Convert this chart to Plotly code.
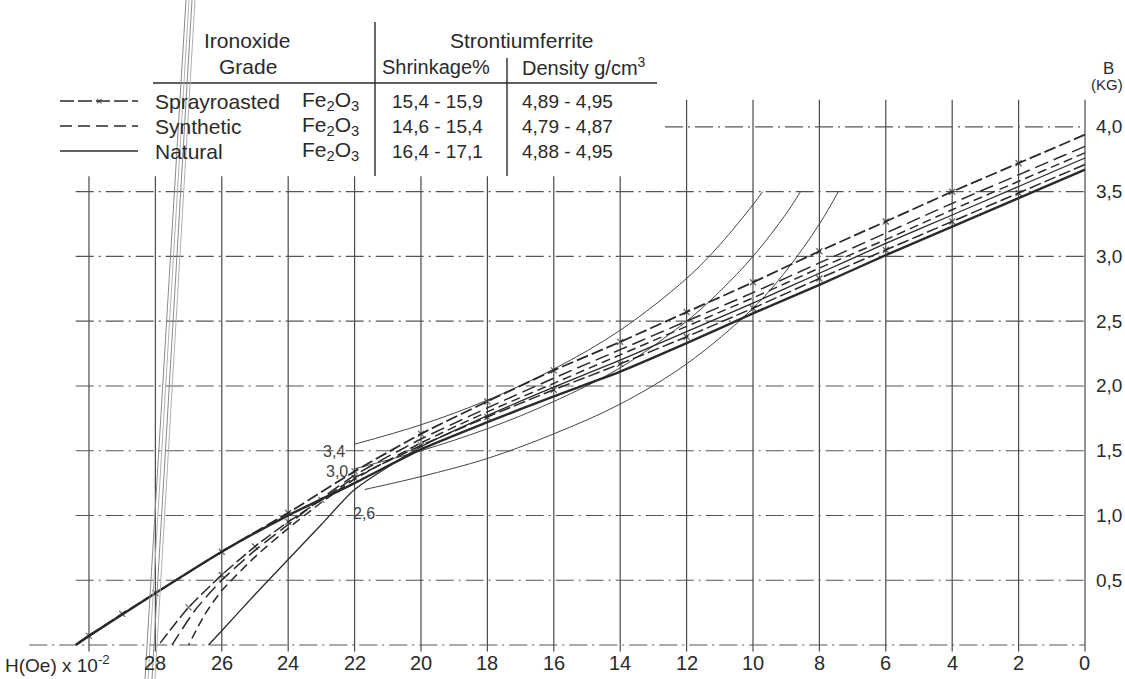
import plotly.graph_objects as go

# ---------------- data ----------------
h_ticks = [28, 26, 24, 22, 20, 18, 16, 14, 12, 10, 8, 6, 4, 2, 0]
h_tick_labels = ["28", "26", "24", "22", "20", "18", "16", "14", "12", "10", "8", "6", "4", "2", "0"]
b_ticks = [0.5, 1.0, 1.5, 2.0, 2.5, 3.0, 3.5, 4.0]
b_tick_labels = ["0,5", "1,0", "1,5", "2,0", "2,5", "3,0", "3,5", "4,0"]

grid_h_low = [30, 28, 26, 24, 22, 20, 18, 16, 14]   # verticals ending under the table
grid_h_high = [12, 10, 8, 6, 4, 2, 0]               # verticals reaching 4.2 kG
grid_b_main = [0.5, 1.0, 1.5, 2.0, 2.5, 3.0, 3.5]
grid_b_top = [4.0]

# demagnetisation curves, H in Oe x 100, B in kG
spray_a_h = [0, 2, 4, 6, 8, 10, 12, 14, 16, 18, 20, 22, 24, 26, 28, 29, 30, 30.4]
spray_a_b = [3.94, 3.72, 3.50, 3.27, 3.04, 2.80, 2.57, 2.34, 2.12, 1.88, 1.63, 1.34, 1.02, 0.72, 0.40, 0.24, 0.07, 0.0]

spray_b_h = [0, 2, 4, 6, 8, 10, 12, 14, 16, 18, 20, 22, 23, 24, 25, 26, 27, 27.9]
spray_b_b = [3.71, 3.49, 3.27, 3.05, 2.83, 2.60, 2.38, 2.17, 1.97, 1.76, 1.54, 1.29, 1.12, 0.95, 0.76, 0.54, 0.29, 0.0]

synth_a_h = [0, 2, 4, 6, 8, 10, 12, 14, 16, 18, 20, 22, 23, 24, 25, 26, 26.8, 27.5]
synth_a_b = [3.85, 3.63, 3.41, 3.18, 2.95, 2.72, 2.50, 2.28, 2.06, 1.83, 1.59, 1.31, 1.13, 0.93, 0.73, 0.50, 0.27, 0.0]

synth_b_h = [0, 2, 4, 6, 8, 10, 12, 14, 16, 18, 20, 22, 23, 24, 25, 26, 26.5, 27.0]
synth_b_b = [3.80, 3.58, 3.36, 3.13, 2.91, 2.68, 2.46, 2.24, 2.02, 1.80, 1.56, 1.28, 1.10, 0.90, 0.68, 0.42, 0.24, 0.0]

natural_a_h = [0, 2, 4, 6, 8, 10, 12, 14, 16, 18, 20, 22, 24, 26, 28, 30, 30.4]
natural_a_b = [3.67, 3.45, 3.23, 3.01, 2.78, 2.56, 2.33, 2.11, 1.92, 1.72, 1.51, 1.25, 1.00, 0.72, 0.40, 0.07, 0.0]

natural_b_h = [0, 2, 4, 6, 8, 10, 12, 14, 16, 18, 20, 22, 23, 24, 25, 26, 26.4]
natural_b_b = [3.76, 3.54, 3.32, 3.10, 2.87, 2.64, 2.42, 2.20, 1.99, 1.77, 1.53, 1.20, 0.93, 0.66, 0.39, 0.11, 0.0]

# lines of constant energy product (BH)max, MGOe
iso_labels = ["3,4", "3,0", "2,6"]
iso34_h = [22, 20, 18, 16, 14, 12, 11, 10, 9.71]
iso34_b = [1.55, 1.70, 1.89, 2.13, 2.43, 2.83, 3.09, 3.40, 3.50]
iso30_h = [22, 20, 18, 16, 14, 12, 11, 10, 9, 8.57]
iso30_b = [1.36, 1.50, 1.67, 1.88, 2.14, 2.50, 2.73, 3.00, 3.33, 3.50]
iso26_h = [21.7, 20, 18, 16, 14, 12, 10, 9, 8, 7.43]
iso26_b = [1.20, 1.30, 1.44, 1.63, 1.86, 2.17, 2.60, 2.89, 3.25, 3.50]

grades = ["Sprayroasted", "Synthetic", "Natural"]
shrinkage = ["15,4 - 15,9", "14,6 - 15,4", "16,4 - 17,1"]
density = ["4,89 - 4,95", "4,79 - 4,87", "4,88 - 4,95"]

# ---------------- figure ----------------
W, HGT = 1125, 679
XR = [32.68, -1.205]
YR = [-0.263, 4.98]
INK = "#2a2a2a"
GRID = "#4a4a4a"
FONT = "Liberation Sans"

fig = go.Figure()


def seg_trace(xs, ys, color, width, dash="solid"):
    fig.add_trace(go.Scatter(x=xs, y=ys, mode="lines", hoverinfo="skip",
                             line=dict(color=color, width=width, dash=dash),
                             showlegend=False))


# vertical grid
vx, vy = [], []
for h in grid_h_low:
    vx += [h, h, None]
    vy += [-0.05, 3.62, None]
for h in grid_h_high:
    vx += [h, h, None]
    vy += [-0.05, 4.21, None]
seg_trace(vx, vy, GRID, 1.2)

# horizontal grid (dash-dot)
hx, hy = [31.8, 0, None], [0, 0, None]
for b in grid_b_main:
    hx += [30.4, 0, None]
    hy += [b, b, None]
for b in grid_b_top:
    hx += [12.65, 0, None]
    hy += [b, b, None]
seg_trace(hx, hy, "#555555", 1.1, "18px,5px,2px,5px")

# iso energy curves
for hh, bb in [(iso34_h, iso34_b), (iso30_h, iso30_b), (iso26_h, iso26_b)]:
    fig.add_trace(go.Scatter(x=hh, y=bb, mode="lines", line=dict(color="#444444", width=1.0, shape="spline"),
                             hoverinfo="skip", showlegend=False))


# demagnetisation curves
def curve(hh, bb, dash, width, xmark=False):
    sizes = [6] * len(hh)
    sizes[0] = 0
    sizes[-1] = 0
    fig.add_trace(go.Scatter(
        x=hh, y=bb, mode="lines+markers" if xmark else "lines",
        line=dict(color=INK, width=width, dash=dash, shape="spline", smoothing=0.6),
        marker=dict(symbol="x-thin", size=sizes, line=dict(color=INK, width=1.3)) if xmark else None,
        hoverinfo="skip", showlegend=False))


curve(natural_a_h, natural_a_b, "solid", 2.4)
curve(natural_b_h, natural_b_b, "solid", 1.3)
curve(synth_a_h, synth_a_b, "14px,6px", 1.5)
curve(synth_b_h, synth_b_b, "9px,5px", 1.5)
curve(spray_b_h, spray_b_b, "12px,4px", 1.5, xmark=True)
curve(spray_a_h, spray_a_b, "12px,4px", 1.8, xmark=True)

fig.update_xaxes(range=XR, visible=False, showgrid=False, zeroline=False)
fig.update_yaxes(range=YR, visible=False, showgrid=False, zeroline=False)

ann = []


def px(xp):
    return xp / W


def py(yp):
    return 1 - yp / HGT


def text(t, xp, yp, size=20, xanchor="left", color=INK):
    ann.append(dict(text=t, x=px(xp), y=py(yp), xref="paper", yref="paper",
                    xanchor=xanchor, yanchor="middle", showarrow=False,
                    font=dict(family=FONT, size=size, color=color)))


# x tick labels
for v, lab in zip(h_ticks, h_tick_labels):
    ann.append(dict(text=lab, x=v, y=-0.14, xref="x", yref="y", xanchor="center", yanchor="middle",
                    showarrow=False, font=dict(family=FONT, size=20, color=INK)))
# y tick labels (right side)
for v, lab in zip(b_ticks, b_tick_labels):
    ann.append(dict(text=lab, x=-0.28, y=v, xref="x", yref="y", xanchor="left", yanchor="middle",
                    showarrow=False, font=dict(family=FONT, size=19, color=INK)))

text("H(Oe) x 10<sup>-2</sup>", 3, 664, 19)
text("B", 1108, 69, 17, "center")
text("(KG)", 1107, 84, 15, "center")

# iso curve labels
for lab, (xp, yp) in zip(iso_labels, [(334, 451), (337, 471), (364, 513)]):
    text(lab, xp, yp, 16, "center", "#444444")

# table
text("Ironoxide", 247, 40, 21, "center")
text("Grade", 248, 67, 21, "center")
text("Strontiumferrite", 522, 40, 21, "center")
text("Shrinkage%", 436, 67, 20, "center")
text("Density g/cm<sup>3</sup>", 584, 67, 20, "center")
rows_y = [101, 126, 151]
for g, s, d, yy in zip(grades, shrinkage, density, rows_y):
    text(g, 153, yy, 21)
    text("Fe<sub>2</sub>O<sub>3</sub>", 300, yy, 21)
    text(s, 437, yy, 19, "center")
    text(d, 567, yy, 19, "center")

shapes = []


def pline(x0, y0, x1, y1, color=INK, width=1.3, dash="solid"):
    shapes.append(dict(type="line", xref="paper", yref="paper", x0=px(x0), y0=py(y0), x1=px(x1), y1=py(y1),
                       line=dict(color=color, width=width, dash=dash)))


pline(153, 83, 657, 83, INK, 1.6)
pline(375, 22, 375, 176, INK, 1.4)
pline(507, 58, 507, 176, INK, 1.4)
# legend samples
pline(60, rows_y[0], 138, rows_y[0], INK, 1.4, "14px,4px")
pline(60, rows_y[1], 138, rows_y[1], INK, 1.4, "12px,6px")
pline(60, rows_y[2], 138, rows_y[2], INK, 1.4)
text("×", 99, rows_y[0], 11, "center")

# scan artefact (paper fold lines)
pline(186, 0, 145, 679, "#8a8a8a", 1.0)
pline(189, 0, 148, 679, "#b0b0b0", 1.0)
pline(192, 0, 152, 679, "#8a8a8a", 1.0)
pline(195, 0, 155, 679, "#b0b0b0", 1.0)

fig.update_layout(width=W, height=HGT, margin=dict(l=0, r=0, t=0, b=0),
                  font=dict(family=FONT, size=19, color=INK),
                  paper_bgcolor="white", plot_bgcolor="white",
                  annotations=ann, shapes=shapes, showlegend=False)

fig.write_html("out.html")
